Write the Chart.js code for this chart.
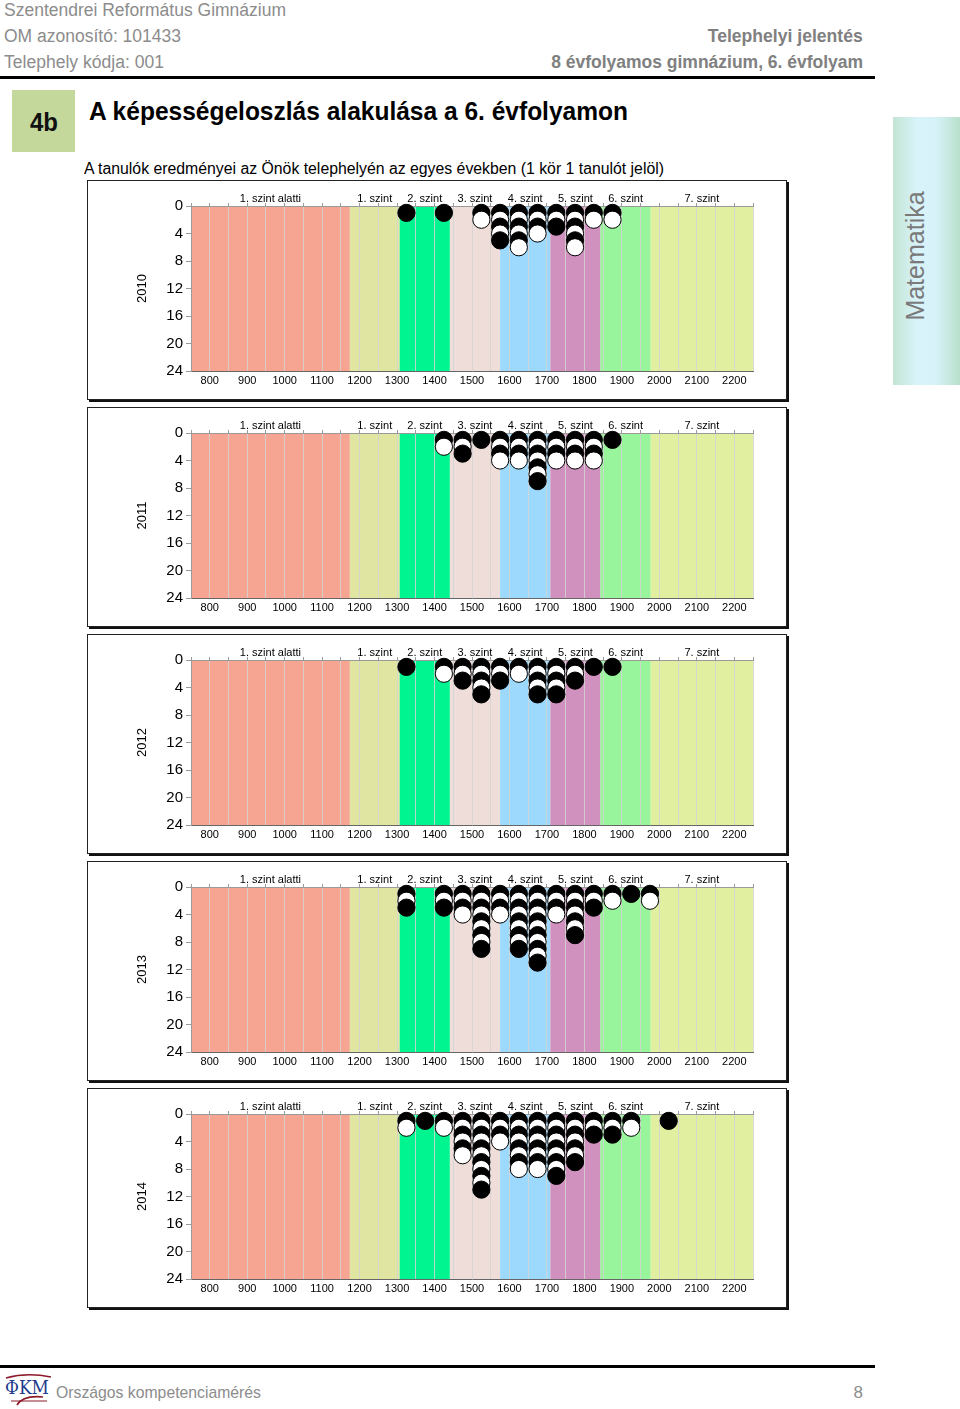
<!DOCTYPE html>
<html><head><meta charset="utf-8">
<script src="https://cdn.jsdelivr.net/npm/chart.js@4.4.1/dist/chart.umd.min.js"></script>
<style>
body{margin:0;width:960px;height:1409px;position:relative;background:#fff;font-family:"Liberation Sans",Arial,sans-serif;overflow:hidden}
.t{position:absolute;white-space:nowrap;line-height:1}
.gl{transform-origin:left center}
.gr{transform-origin:right center}
.rule{position:absolute;left:0;width:875px;height:3px;background:#000}
.panel{position:absolute;left:87px;width:700px;height:220px;box-sizing:border-box;border:1px solid #222;box-shadow:2px 2px 0 #111}
.cv{position:absolute;left:87px;width:702px;height:222px}
</style></head><body>
<div class="t gl" data-w="282" style="left:4px;top:1px;font-size:18px;color:#8c8c8c">Szentendrei Református Gimnázium</div>
<div class="t gl" data-w="177" style="left:4px;top:27px;font-size:18px;color:#8c8c8c">OM azonosító: 101433</div>
<div class="t gl" data-w="160" style="left:4px;top:53px;font-size:18px;color:#8c8c8c">Telephely kódja: 001</div>
<div class="t gr" data-w="155" style="right:97px;top:27px;font-size:18px;font-weight:bold;color:#808080">Telephelyi jelentés</div>
<div class="t gr" data-w="312" style="right:97px;top:53px;font-size:18px;font-weight:bold;color:#808080">8 évfolyamos gimnázium, 6. évfolyam</div>
<div class="rule" style="top:76px"></div>
<div style="position:absolute;left:12px;top:90px;width:63px;height:62px;background:#c4d89b"></div>
<div class="t gl" data-w="28" style="left:30px;top:110px;font-size:25px;font-weight:bold;color:#111">4b</div>
<div class="t gl" data-w="539" style="left:89px;top:99px;font-size:25px;font-weight:bold;color:#000">A képességeloszlás alakulása a 6. évfolyamon</div>
<div class="t gl" data-w="580" style="left:84px;top:161px;font-size:16px;color:#000">A tanulók eredményei az Önök telephelyén az egyes években (1 kör 1 tanulót jelöl)</div>
<div style="position:absolute;left:893px;top:117px;width:67px;height:268px;background:linear-gradient(to right,#c3e5d3 0%,#d8f3f9 35%,#d6f2f8 65%,#b8e0ca 100%)"></div>
<div class="t" style="left:915px;top:256px;font-size:25px;color:#7a7a7a;transform:translate(-50%,-50%) rotate(-90deg)">Matematika</div>

<div class="panel" style="top:180px"></div><canvas class="cv" id="c2010" width="702" height="222" style="top:180px"></canvas>
<div class="panel" style="top:407px"></div><canvas class="cv" id="c2011" width="702" height="222" style="top:407px"></canvas>
<div class="panel" style="top:634px"></div><canvas class="cv" id="c2012" width="702" height="222" style="top:634px"></canvas>
<div class="panel" style="top:861px"></div><canvas class="cv" id="c2013" width="702" height="222" style="top:861px"></canvas>
<div class="panel" style="top:1088px"></div><canvas class="cv" id="c2014" width="702" height="222" style="top:1088px"></canvas>

<div class="rule" style="top:1365px"></div>
<svg style="position:absolute;left:3px;top:1371px" width="50" height="36">
  <path d="M3 7 Q24 1 48 6" stroke="#8b1a2b" stroke-width="1.6" fill="none"/>
  <path d="M14 34 Q20 24 40 26" stroke="#8b1a2b" stroke-width="1.6" fill="none"/>
  <path d="M8 30 L44 30" stroke="#8b1a2b" stroke-width="1" fill="none"/>
</svg>
<div class="t gl" data-w="44" style="left:5px;top:1378px;font-size:19px;font-family:'DejaVu Serif',serif;color:#1f3c8c">ΦKM</div>
<div class="t gl" data-w="205" style="left:56px;top:1384px;font-size:17px;color:#8c8c8c">Országos kompetenciamérés</div>
<div class="t" style="right:97px;top:1384px;font-size:17px;color:#8c8c8c">8</div>

<script>
// ---- data ----
const years = ['2010', '2011', '2012', '2013', '2014'];
const levelNames = ['1. szint alatti', '1. szint', '2. szint', '3. szint', '4. szint', '5. szint', '6. szint', '7. szint'];
const levelBounds = [750, 1174, 1307, 1441, 1575, 1709, 1843, 1977, 2250];
const xTickLabels = [800, 900, 1000, 1100, 1200, 1300, 1400, 1500, 1600, 1700, 1800, 1900, 2000, 2100, 2200];
const yTickLabels = [0, 4, 8, 12, 16, 20, 24];

const bins2010 = [1325, 1425, 1525, 1575, 1625, 1675, 1725, 1775, 1825, 1875];
const counts2010 = [1, 1, 2, 5, 6, 4, 3, 6, 2, 2];
const bins2011 = [1425, 1475, 1525, 1575, 1625, 1675, 1725, 1775, 1825, 1875];
const counts2011 = [2, 3, 1, 4, 4, 7, 4, 4, 4, 1];
const bins2012 = [1325, 1425, 1475, 1525, 1575, 1625, 1675, 1725, 1775, 1825, 1875];
const counts2012 = [1, 2, 3, 5, 3, 2, 5, 5, 3, 1, 1];
const bins2013 = [1325, 1425, 1475, 1525, 1575, 1625, 1675, 1725, 1775, 1825, 1875, 1925, 1975];
const counts2013 = [3, 3, 4, 9, 4, 9, 11, 4, 7, 3, 2, 1, 2];
const bins2014 = [1325, 1375, 1425, 1475, 1525, 1575, 1625, 1675, 1725, 1775, 1825, 1875, 1925, 2025];
const counts2014 = [2, 1, 2, 6, 11, 4, 8, 8, 9, 7, 3, 3, 2, 1];

// ---- styles ----
const levelColors = ['#f5a591', '#e0e6a2', '#00f590', '#eeddd8', '#9dd9fd', '#d191be', '#98f59b', '#e0f0a0'];
const FONT = "'Liberation Sans', Arial, sans-serif";

// fit header texts
document.querySelectorAll('[data-w]').forEach(el => {
  const w = el.getBoundingClientRect().width;
  el.style.transform = 'scaleX(' + (+el.dataset.w / w) + ')';
});

Chart.defaults.font.family = FONT;

const gridValues = [];
for (let v = levelBounds[0]; v <= levelBounds[levelBounds.length - 1]; v += 50) gridValues.push(v);
const levelCenters = levelNames.map((n, i) => (levelBounds[i] + levelBounds[i + 1]) / 2);

const bandPlugin = {
  id: 'bands',
  beforeDraw(chart) {
    const { ctx, chartArea: a } = chart;
    const x = chart.scales.x;
    ctx.save();
    for (let i = 0; i < levelColors.length; i++) {
      const x0 = x.getPixelForValue(levelBounds[i]);
      const x1 = x.getPixelForValue(levelBounds[i + 1]);
      ctx.fillStyle = levelColors[i];
      ctx.fillRect(x0, a.top, x1 - x0, a.bottom - a.top);
    }
    ctx.restore();
  }
};

function makeChart(id, year, bins, counts) {
  const pts = [], fills = [];
  bins.forEach((b, i) => {
    for (let k = 1; k <= counts[i]; k++) {
      pts.push({ x: b, y: k });
      fills.push(k % 2 ? '#000' : '#fff');
    }
  });
  new Chart(document.getElementById(id), {
    type: 'scatter',
    data: { datasets: [{ data: pts, pointRadius: 8.6, pointHoverRadius: 8.6, pointBackgroundColor: fills, pointBorderColor: '#000', pointBorderWidth: 1, clip: false }] },
    options: {
      responsive: false, animation: false, devicePixelRatio: 1, events: [],
      layout: { padding: { left: 48, right: 36, top: 0, bottom: 0 } },
      plugins: { legend: { display: false }, tooltip: { enabled: false } },
      scales: {
        x: {
          type: 'linear', position: 'bottom', min: levelBounds[0], max: levelBounds[levelBounds.length - 1],
          afterBuildTicks: s => { s.ticks = gridValues.map(v => ({ value: v })); },
          afterFit: s => { s.height = 31; },
          ticks: { autoSkip: false, maxRotation: 0, padding: 3, color: '#000', font: { size: 11 },
                   callback: v => xTickLabels.includes(v) ? String(v) : '' },
          grid: { color: 'rgba(212,212,212,0.85)', lineWidth: 1, drawTicks: false },
          border: { color: '#666', width: 1 }
        },
        x2: {
          type: 'linear', position: 'top', min: levelBounds[0], max: levelBounds[levelBounds.length - 1],
          afterBuildTicks: s => { s.ticks = gridValues.concat(levelCenters).sort((a, b) => a - b).map(v => ({ value: v })); },
          afterFit: s => { s.height = 26; },
          ticks: { autoSkip: false, maxRotation: 0, padding: -2.5, color: '#000', font: { size: 11 },
                   callback: v => { const i = levelCenters.indexOf(v); return i >= 0 ? levelNames[i] : ''; } },
          grid: { drawOnChartArea: false, tickLength: 3,
                  tickColor: c => (c.tick && levelCenters.includes(c.tick.value)) ? 'rgba(0,0,0,0)' : '#9a9a9a' },
          border: { color: '#9a9a9a' }
        },
        y: {
          type: 'linear', reverse: true, min: yTickLabels[0], max: yTickLabels[yTickLabels.length - 1],
          afterBuildTicks: s => { s.ticks = yTickLabels.map(v => ({ value: v })); },
          afterFit: s => { s.width = 56; },
          ticks: { padding: 3, color: '#000', font: { size: 15 } },
          grid: { drawOnChartArea: false, tickLength: 5, tickColor: '#9a9a9a' },
          border: { color: '#9a9a9a' },
          title: { display: true, text: year, color: '#000', font: { size: 13 }, padding: 0 }
        }
      }
    },
    plugins: [bandPlugin]
  });
}

makeChart('c2010', years[0], bins2010, counts2010);
makeChart('c2011', years[1], bins2011, counts2011);
makeChart('c2012', years[2], bins2012, counts2012);
makeChart('c2013', years[3], bins2013, counts2013);
makeChart('c2014', years[4], bins2014, counts2014);
</script>
</body></html>
